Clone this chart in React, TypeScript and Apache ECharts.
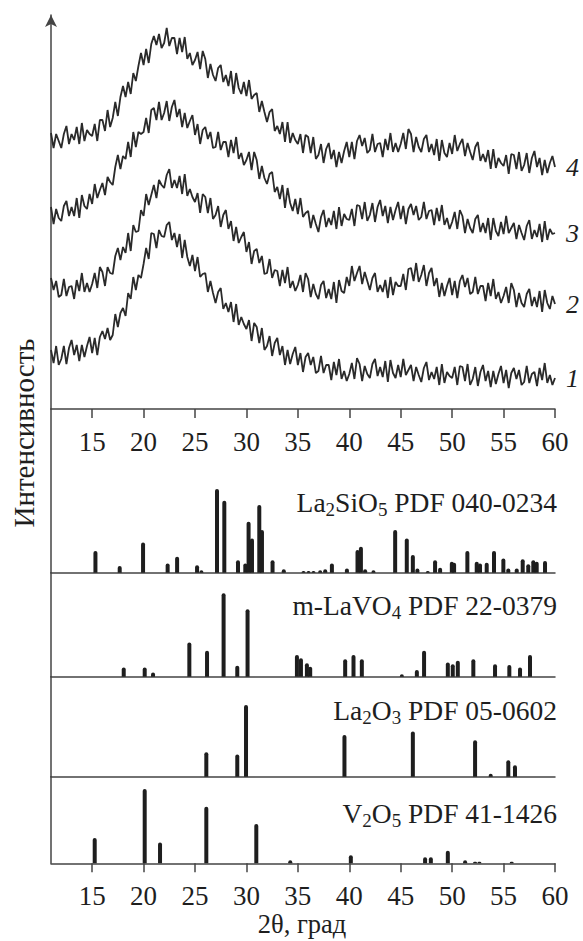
import React, { useEffect, useRef } from "react";
import * as echarts from "echarts";

// ---------- data ----------
const THETA_MIN = 11;
const THETA_MAX = 60;
const THETA_STEP = 0.25;
const TICK_VALUES = [15, 20, 25, 30, 35, 40, 45, 50, 55, 60];
const CURVE_NAMES = ["1", "2", "3", "4"];

// XRD intensities (arb. units, curves offset), read every 0.25° from 11° to 60°
const CURVE_1 = [
  59,46,63,44, 50,63,45,61, 69,54,64,48, 64,52,63,72, 56,71,54,72,
  78,70,81,69, 74,95,82,96, 101,93,116,110, 132,119,134,131, 145,161,150,176,
  175,161,179,173, 172,184,187,169, 176,162,175,151, 169,152,143,154, 138,152,132,135,
  136,117,128,116, 106,117,121,100, 106,97,107,87, 105,84,92,85, 80,89,68,86,
  82,66,81,59, 63,73,53,66, 71,54,63,44, 59,45,55,62, 44,56,37,52,
  56,44,52,36, 38,53,36,44, 44,29,47,34, 50,30,38,28, 35,46,30,51,
  45,28,43,35, 31,45,50,33, 42,32,48,27, 49,36,31,44, 32,50,34,39,
  44,28,42,34, 27,41,47,29, 37,30,42,24, 45,26,37,33, 31,42,24,43,
  42,28,45,24, 30,42,23,37, 44,28,38,22, 38,25,35,43, 26,39,21,36,
  41,30,39,24, 27,43,26,35, 37,23,41,29, 46,26,34,24,
  31,
];
const CURVE_2 = [
  131,119,128,112, 114,130,113,122, 123,110,129,118, 136,117,126,117, 125,136,121,142,
  137,123,142,136, 135,153,161,149, 162,156,176,158, 184,177,178,199, 193,215,204,214,
  224,211,229,224, 221,234,240,221, 229,221,233,215, 235,213,220,212, 207,216,196,215,
  212,196,211,190, 194,203,182,194, 199,180,188,168, 182,166,172,177, 157,167,145,158,
  160,146,153,135, 136,150,131,139, 138,123,139,126, 142,121,128,118, 124,134,117,136,
  130,112,125,115, 110,124,128,111, 120,110,127,106, 129,118,116,132, 123,143,128,136,
  143,125,137,128, 119,131,136,117, 124,117,129,111, 132,114,127,123, 123,135,119,140,
  141,128,146,127, 134,144,123,136, 141,123,131,112, 126,113,123,131, 114,128,111,128,
  134,122,131,115, 117,132,115,123, 123,108,126,113, 130,110,117,106, 113,122,106,126,
  119,102,116,106, 102,115,120,103, 112,102,118,97, 119,106,100,113,
  105,
];
const CURVE_3 = [
  202,185,200,191, 188,203,208,193, 202,193,211,191, 214,203,200,215, 205,225,211,219,
  226,214,232,227, 224,242,254,240, 253,250,267,252, 277,262,277,275, 277,291,276,299,
  301,289,307,289, 296,308,288,302, 309,292,300,282, 296,281,288,294, 274,285,265,279,
  282,270,277,261, 262,277,259,267, 267,252,269,256, 272,250,256,244, 249,257,239,257,
  249,230,243,231, 225,235,237,217, 222,210,224,201, 221,206,198,210, 195,211,192,196,
  198,181,194,185, 177,192,199,182, 191,184,198,180, 202,183,195,190, 189,200,183,204,
  203,190,207,188, 194,206,187,202, 209,193,203,186, 202,189,199,207, 190,203,185,200,
  205,194,203,189, 192,207,190,198, 199,184,201,188, 204,184,191,180, 187,197,180,199,
  193,176,190,181, 176,190,194,177, 186,176,191,169, 191,178,173,187, 175,193,176,181,
  186,170,184,176, 169,183,189,170, 179,172,185,167, 188,169,180,175,
  176,
];
const CURVE_4 = [
  276,261,275,268, 261,275,283,265, 275,269,282,265, 286,268,279,275, 273,285,268,289,
  289,278,299,282, 291,307,293,312, 323,312,327,315, 336,328,343,356, 344,360,346,365,
  373,364,375,361, 366,381,363,371, 371,355,371,357, 372,350,356,344, 349,357,340,358,
  350,331,345,334, 328,341,344,327, 334,323,338,315, 336,321,315,327, 313,329,310,314,
  316,297,308,297, 287,297,300,278, 283,275,287,267, 287,266,276,269, 265,275,256,274,
  272,256,272,250, 254,265,246,260, 266,250,259,242, 257,246,258,267, 252,267,250,268,
  274,263,271,256, 259,275,257,265, 266,252,270,259, 276,257,266,257, 265,276,260,280,
  275,257,272,262, 257,270,274,257, 265,254,270,248, 269,256,252,266, 255,274,258,265,
  270,253,266,257, 249,262,267,248, 255,247,259,240, 260,241,251,246, 243,254,235,255,
  254,240,257,238, 244,256,236,251, 258,242,251,234, 249,236,246,253,
  242,
];

// Reference patterns: 2θ positions and relative intensities (%)
const LA2SIO5_POS = [15.32, 17.68, 19.95, 22.34, 23.26, 25.2, 25.62, 27.14, 27.85, 29.18, 29.89, 30.21, 30.54, 31.25, 31.51, 32.54, 33.63, 35.55, 36.04, 36.52, 37.17, 37.66, 38.31, 39.77, 40.8, 41.13, 41.54, 42.35, 44.46, 45.59, 46.18, 46.62, 47.63, 48.34, 48.83, 49.97, 50.19, 51.48, 52.39, 52.71, 53.36, 54.07, 54.98, 55.46, 56.28, 56.86, 57.4, 57.89, 58.22, 59.03];
const LA2SIO5_INT = [26, 8, 36, 11, 19, 9, 3, 100, 86, 15, 11, 61, 41, 81, 51, 15, 4, 2, 2, 2, 3, 4, 11, 5, 27, 31, 4, 3, 51, 41, 21, 5, 2, 15, 6, 13, 12, 26, 13, 11, 12, 26, 17, 5, 5, 16, 10, 15, 13, 14];

const LAVO4_POS = [18.07, 20.11, 20.92, 24.45, 26.17, 27.78, 29.11, 30.11, 34.91, 35.3, 35.88, 36.2, 39.6, 40.41, 41.22, 45.11, 46.57, 47.27, 49.58, 50.06, 50.55, 52.06, 54.17, 55.56, 56.6, 57.57];
const LAVO4_INT = [11, 11, 5, 41, 31, 100, 13, 81, 26, 22, 16, 12, 21, 26, 21, 3, 8, 31, 17, 15, 19, 21, 15, 14, 11, 26];

const LA2O3_POS = [26.1, 29.11, 29.96, 39.53, 46.18, 52.23, 53.75, 55.46, 56.11];
const LA2O3_INT = [34, 31, 100, 58, 63, 51, 4, 23, 16];

const V2O5_POS = [15.25, 20.11, 21.6, 26.1, 30.96, 34.26, 40.15, 47.37, 47.93, 49.58, 51.26, 52.23, 52.65, 55.79];
const V2O5_INT = [34, 100, 28, 76, 53, 4, 11, 8, 8, 17, 4, 2, 2, 2];

const PANEL_TITLES = [
  "{n|La}{s|2}{n|SiO}{s|5}{n| PDF 040-0234}",
  "{n|m-LaVO}{s|4}{n| PDF 22-0379}",
  "{n|La}{s|2}{n|O}{s|3}{n| PDF 05-0602}",
  "{n|V}{s|2}{n|O}{s|5}{n| PDF 41-1426}",
];
const X_TITLE = "2θ, град";
const Y_TITLE = "Интенсивность";

// ---------- layout ----------
const SERIF = '"Liberation Serif", "Times New Roman", Times, serif';
const AX = "#444";
const INK = "#1e1e1e";
const LEFT = 51;
const WIDTH = 504;
const PANELS = [
  { top: 409, height: 163.7, yMax: 195.6, titleY: 502 },
  { top: 572.7, height: 104, yMax: 124.8, titleY: 605 },
  { top: 676.7, height: 100, yMax: 139.5, titleY: 710 },
  { top: 776.7, height: 86.6, yMax: 116.6, titleY: 813 },
];

export default function App() {
  const ref = useRef<HTMLDivElement>(null);

  useEffect(() => {
    if (!ref.current) return;
    const chart = echarts.init(ref.current, null, { renderer: "svg" });

    const theta = CURVE_1.map((_, i) => THETA_MIN + i * THETA_STEP);
    const curves = [CURVE_1, CURVE_2, CURVE_3, CURVE_4];
    const patterns = [
      [LA2SIO5_POS, LA2SIO5_INT],
      [LAVO4_POS, LAVO4_INT],
      [LA2O3_POS, LA2O3_INT],
      [V2O5_POS, V2O5_INT],
    ];

    const axisLine = { show: true, onZero: false, lineStyle: { color: AX, width: 1.5 } };
    const labelStyle = { fontFamily: SERIF, fontSize: 27, color: INK };

    const grids: any[] = [{ left: LEFT, width: WIDTH, top: 15, height: 394 }];
    PANELS.forEach((p) => grids.push({ left: LEFT, width: WIDTH, top: p.top, height: p.height }));

    const xAxes: any[] = grids.map((_, gi) => {
      const withLabels = gi === 0 || gi === grids.length - 1;
      return {
        gridIndex: gi,
        type: "value",
        min: THETA_MIN,
        max: THETA_MAX,
        axisLine,
        axisTick: {
          show: withLabels,
          customValues: TICK_VALUES,
          length: 9,
          lineStyle: { color: AX, width: 1.5 },
        },
        axisLabel: {
          show: withLabels,
          customValues: TICK_VALUES,
          margin: 19,
          ...labelStyle,
        },
        splitLine: { show: false },
      };
    });

    const yAxes: any[] = [
      {
        gridIndex: 0,
        type: "value",
        min: 0,
        max: 394,
        axisLine: { ...axisLine, symbol: ["none", "arrow"], symbolSize: [9, 12] },
        axisTick: { show: false },
        axisLabel: { show: false },
        splitLine: { show: false },
      },
      ...PANELS.map((p, i) => ({
        gridIndex: i + 1,
        type: "value",
        min: 0,
        max: p.yMax,
        axisLine,
        axisTick: { show: false },
        axisLabel: { show: false },
        splitLine: { show: false },
      })),
    ];

    const series: any[] = [];
    curves.forEach((c, ci) => {
      series.push({
        name: CURVE_NAMES[ci],
        type: "line",
        xAxisIndex: 0,
        yAxisIndex: 0,
        data: c.map((v, i) => [theta[i], v]),
        symbol: "none",
        lineStyle: { color: "#2a2a2a", width: 1.8 },
        endLabel: {
          show: true,
          formatter: CURVE_NAMES[ci],
          distance: 11,
          fontFamily: SERIF,
          fontStyle: "italic",
          fontSize: 26,
          color: INK,
        },
        emphasis: { disabled: true },
        silent: true,
      });
    });
    patterns.forEach(([pos, inten], pi) => {
      series.push({
        type: "bar",
        xAxisIndex: pi + 1,
        yAxisIndex: pi + 1,
        data: pos.map((x, i) => [x, inten[i]]),
        barWidth: 4,
        itemStyle: { color: INK, borderRadius: [2, 2, 0, 0] },
        silent: true,
      });
    });

    const graphic: any[] = [
      {
        type: "text",
        x: 24,
        y: 433,
        rotation: Math.PI / 2,
        style: {
          text: Y_TITLE,
          fontFamily: SERIF,
          fontSize: 29,
          fill: INK,
          align: "center",
          verticalAlign: "middle",
        },
      },
      {
        type: "text",
        x: 302,
        y: 924,
        style: {
          text: X_TITLE,
          fontFamily: SERIF,
          fontSize: 26.5,
          fill: INK,
          align: "center",
          verticalAlign: "middle",
        },
      },
      ...PANELS.map((p, i) => ({
        type: "text",
        x: 557,
        y: p.titleY,
        style: {
          text: PANEL_TITLES[i],
          align: "right",
          verticalAlign: "middle",
          fill: INK,
          rich: {
            n: { fontFamily: SERIF, fontSize: 27.5, fill: INK },
            s: { fontFamily: SERIF, fontSize: 19, fill: INK, padding: [14, 0, 0, 0] },
          },
        },
      })),
    ];

    chart.setOption({
      animation: false,
      backgroundColor: "#fff",
      grid: grids,
      xAxis: xAxes,
      yAxis: yAxes,
      series,
      graphic,
    });

    return () => chart.dispose();
  }, []);

  return (
    <div
      ref={ref}
      style={{ position: "fixed", left: 0, top: 0, width: 583, height: 941, background: "#fff" }}
    />
  );
}
